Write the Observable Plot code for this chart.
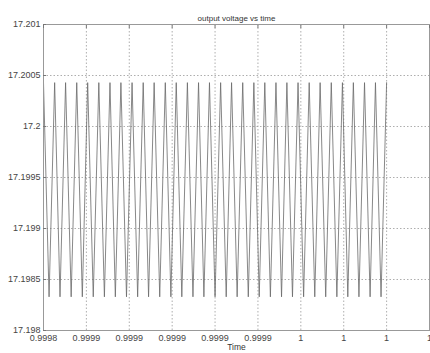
<!DOCTYPE html>
<html>
<head>
<meta charset="utf-8">
<script src="https://cdn.jsdelivr.net/npm/d3@7"></script>
<script src="https://cdn.jsdelivr.net/npm/@observablehq/plot@0.6"></script>
<style>
  html, body { margin: 0; padding: 0; background: #fff; }
  svg { display: block; }
</style>
</head>
<body>
<div id="chart"></div>
<script>
// Chart texts
const chartTitle = "output voltage vs time";
const xLabel = "Time";

// Axis ticks
const xTicks = [0.99984, 0.99986, 0.99988, 0.9999, 0.99992, 0.99994, 0.99996, 0.99998, 1.0, 1.00002];
const yTicks = [17.198, 17.1985, 17.199, 17.1995, 17.2, 17.2005, 17.201];

// Samples (alternating peaks and troughs)
const times = [
  0.9998400, 0.9998426, 0.9998452, 0.9998477, 0.9998503, 0.9998529, 0.9998555, 0.9998581,
  0.9998606, 0.9998632, 0.9998658, 0.9998684, 0.9998710, 0.9998735, 0.9998761, 0.9998787,
  0.9998813, 0.9998839, 0.9998865, 0.9998890, 0.9998916, 0.9998942, 0.9998968, 0.9998994,
  0.9999019, 0.9999045, 0.9999071, 0.9999097, 0.9999123, 0.9999148, 0.9999174, 0.9999200,
  0.9999226, 0.9999252, 0.9999277, 0.9999303, 0.9999329, 0.9999355, 0.9999381, 0.9999406,
  0.9999432, 0.9999458, 0.9999484, 0.9999510, 0.9999535, 0.9999561, 0.9999587, 0.9999613,
  0.9999639, 0.9999665, 0.9999690, 0.9999716, 0.9999742, 0.9999768, 0.9999794, 0.9999819,
  0.9999845, 0.9999871, 0.9999897, 0.9999923, 0.9999948, 0.9999974, 1.0000000
];
const voltage = [
  17.20043, 17.19833, 17.20043, 17.19833, 17.20043, 17.19833, 17.20043, 17.19833,
  17.20043, 17.19833, 17.20043, 17.19833, 17.20043, 17.19833, 17.20043, 17.19833,
  17.20043, 17.19833, 17.20043, 17.19833, 17.20043, 17.19833, 17.20043, 17.19833,
  17.20043, 17.19833, 17.20043, 17.19833, 17.20043, 17.19833, 17.20043, 17.19833,
  17.20043, 17.19833, 17.20043, 17.19833, 17.20043, 17.19833, 17.20043, 17.19833,
  17.20043, 17.19833, 17.20043, 17.19833, 17.20043, 17.19833, 17.20043, 17.19833,
  17.20043, 17.19833, 17.20043, 17.19833, 17.20043, 17.19833, 17.20043, 17.19833,
  17.20043, 17.19833, 17.20043, 17.19833, 17.20043, 17.19833, 17.20043
];

const data = times.map((t, i) => ({t, v: voltage[i]}));
const fmt = d3.format(".4~f");

const chart = Plot.plot({
  width: 430,
  height: 353,
  marginLeft: 43,
  marginRight: 1,
  marginTop: 24,
  marginBottom: 23,
  style: {fontFamily: "'Liberation Sans', Arial, sans-serif", fontSize: "9px", color: "#444", background: "#fff"},
  x: {domain: [xTicks[0], xTicks[xTicks.length - 1]]},
  y: {domain: [yTicks[0], yTicks[yTicks.length - 1]]},
  marks: [
    Plot.gridX(xTicks, {stroke: "#999", strokeOpacity: 1, strokeWidth: 0.8, strokeDasharray: "1.5,2"}),
    Plot.gridY(yTicks, {stroke: "#999", strokeOpacity: 1, strokeWidth: 0.8, strokeDasharray: "1.5,2"}),
    Plot.line(data, {x: "t", y: "v", stroke: "#6a6a6a", strokeWidth: 0.8}),
    Plot.frame({stroke: "#999", strokeWidth: 1}),
    Plot.axisX(xTicks, {tickSize: 0, tickPadding: 4, tickFormat: fmt, label: null, fill: "#444"}),
    Plot.axisX(xTicks, {anchor: "top", tickSize: -3, text: null, label: null, stroke: "#777"}),
    Plot.axisY(yTicks, {tickSize: 0, tickPadding: 3, tickFormat: fmt, label: null, fill: "#444"}),
    Plot.axisY(yTicks, {anchor: "left", tickSize: -3, text: null, label: null, stroke: "#777"}),
    Plot.text([chartTitle], {frameAnchor: "top", dy: -9, fontSize: 8, fill: "#333"}),
    Plot.text([xLabel], {frameAnchor: "bottom", dy: 19, fontSize: 8.5, fill: "#333"})
  ]
});
document.getElementById("chart").appendChild(chart);
</script>
</body>
</html>
